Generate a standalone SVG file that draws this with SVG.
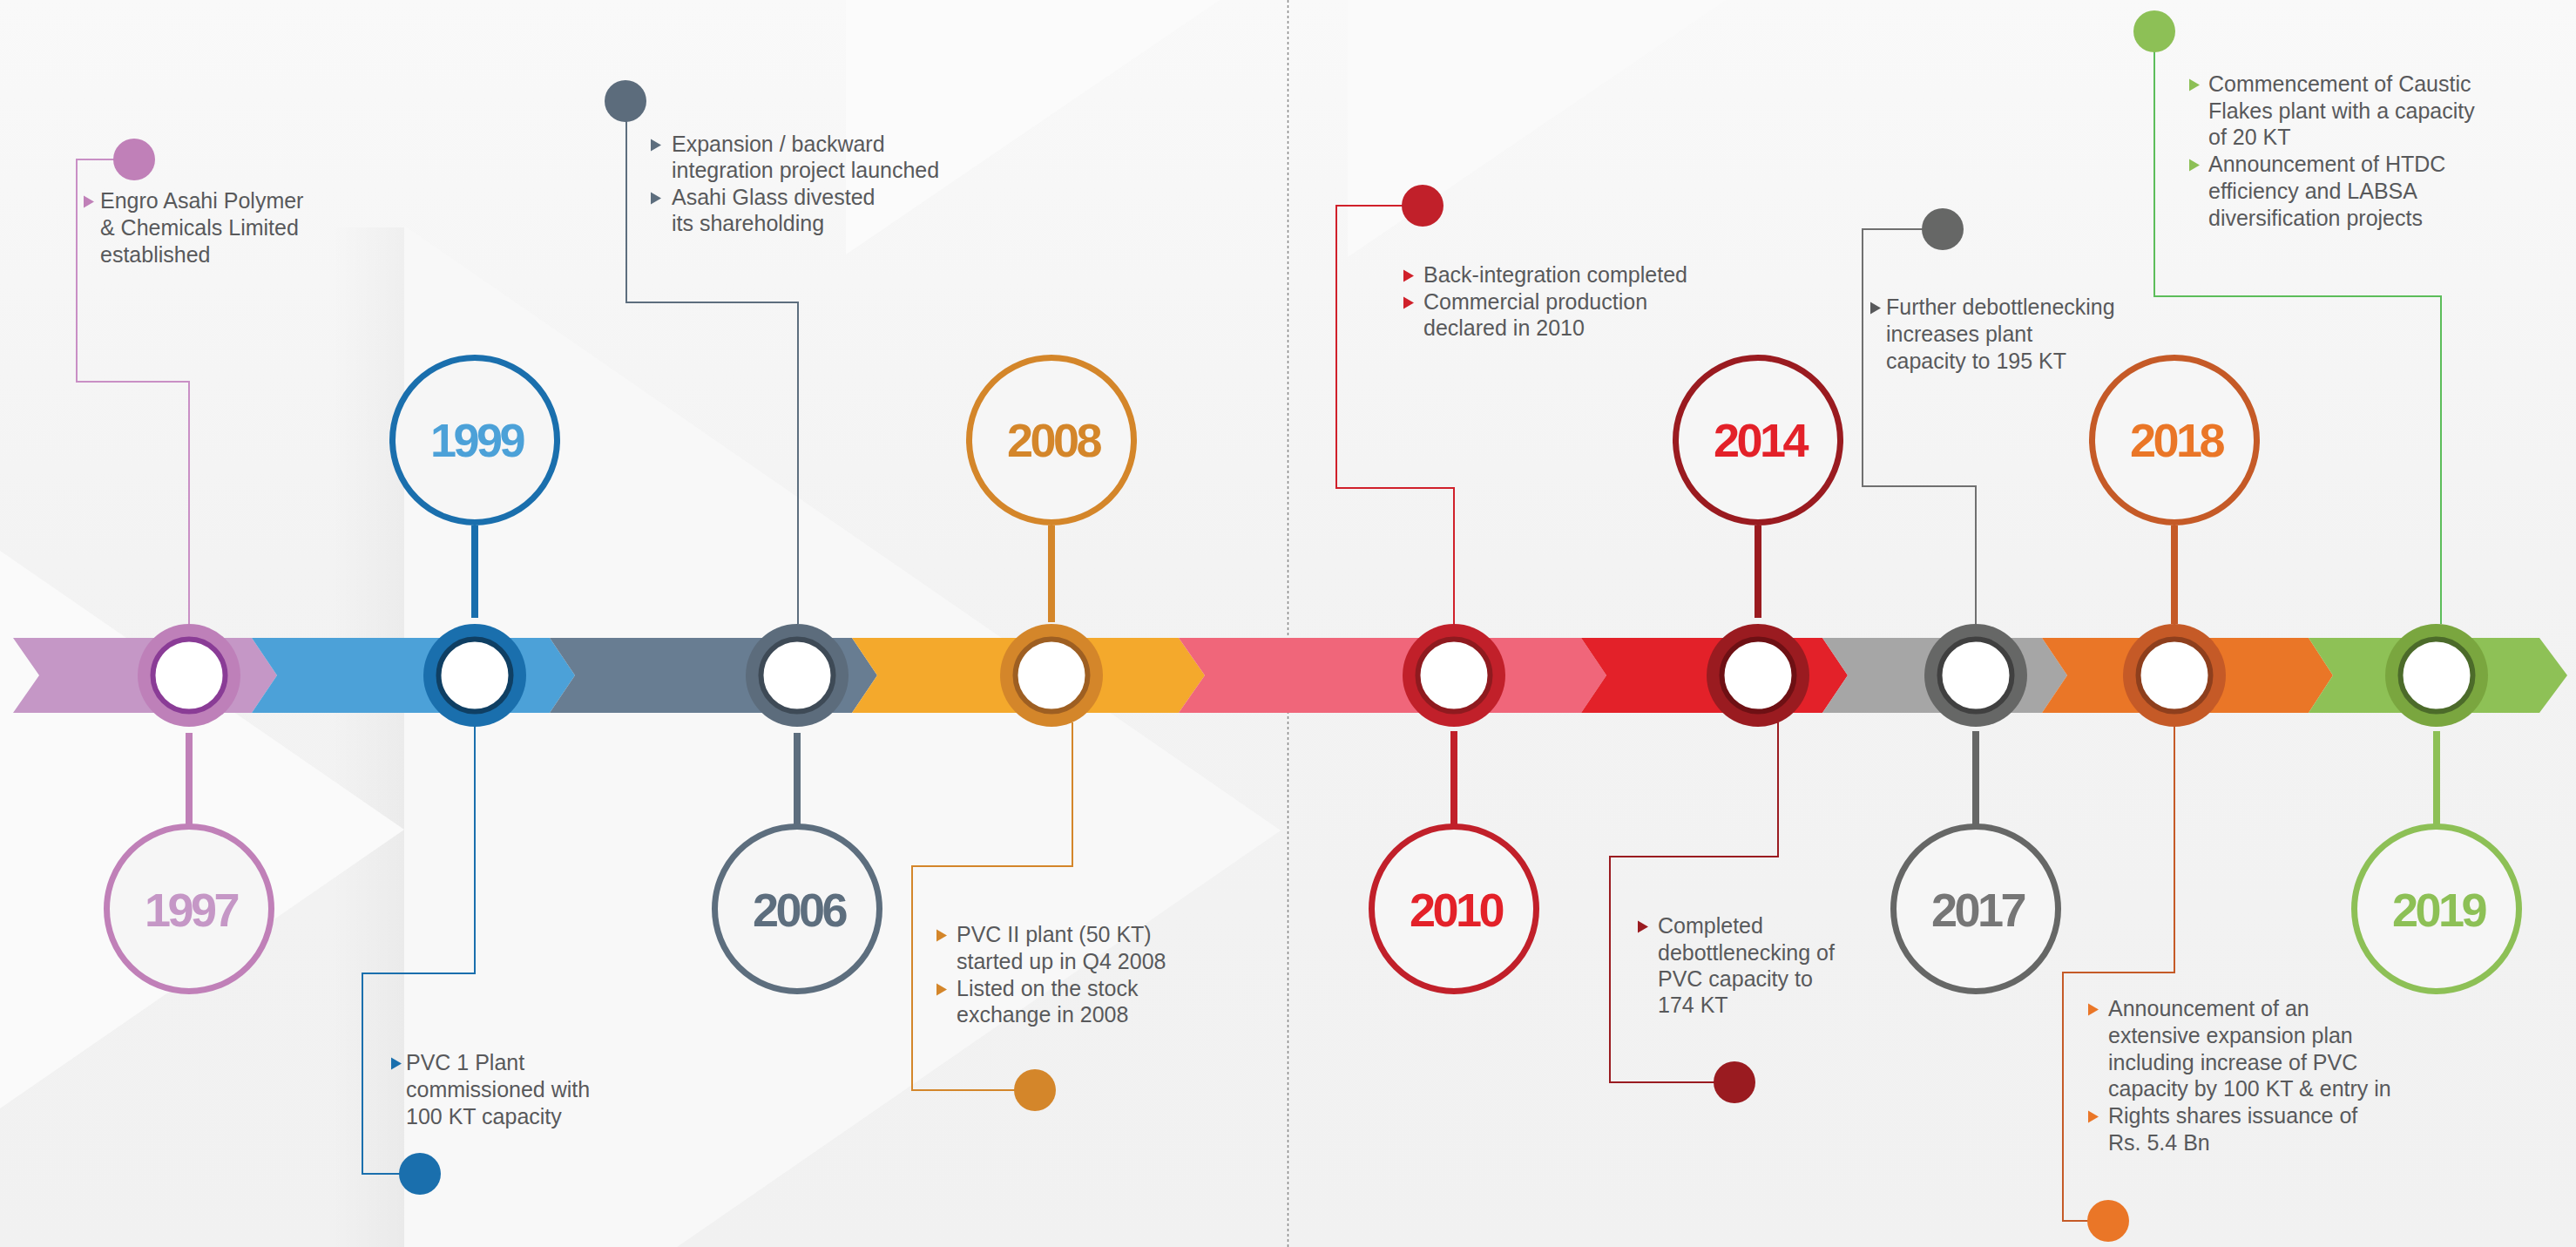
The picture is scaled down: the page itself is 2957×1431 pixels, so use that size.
<svg xmlns="http://www.w3.org/2000/svg" xmlns:xlink="http://www.w3.org/1999/xlink" width="2957" height="1431" viewBox="0 0 2957 1431">
<style>
.t{font-family:"Liberation Sans",Arial,sans-serif;font-size:25px;fill:#58595b}
.y{font-family:"Liberation Sans",Arial,sans-serif;font-weight:bold;font-size:54px;text-anchor:middle;letter-spacing:-3.5px}
.yc{fill:#f6f6f6;stroke-width:7}
.in{fill:#fff;stroke-width:6}
.c{fill:none;stroke-width:2}
.s{stroke-width:8;fill:none}
</style>
<defs>
<linearGradient id="bg" x1="0" y1="0" x2="0" y2="1">
<stop offset="0" stop-color="#f9f9f9"/>
<stop offset="0.45" stop-color="#f3f3f3"/>
<stop offset="1" stop-color="#f1f1f1"/>
</linearGradient>
<linearGradient id="sh" x1="0" y1="0" x2="1" y2="0">
<stop offset="0" stop-color="#000" stop-opacity="0"/>
<stop offset="1" stop-color="#000" stop-opacity="0.03"/>
</linearGradient>
<path id="tri" d="M0,-14.5 L12,-7.5 L0,-0.5 Z"/>
</defs>

<g id="background">
<rect width="2957" height="1431" fill="url(#bg)"/>
<rect x="380" y="261" width="84" height="1170" fill="url(#sh)"/>
<polygon points="464,259 1470,953 464,1647" fill="#f8f8f8"/>
<polygon points="0,632 464,952 0,1272" fill="#fafafa"/>
<polygon points="971,0 971,292 1400,0" fill="#fbfbfb"/>
<polygon points="1547,0 1547,295 1981,0" fill="#fafafa"/>
<line x1="1478.5" y1="0" x2="1478.5" y2="1431" stroke="#8a8a8a" stroke-width="1.5" stroke-dasharray="3 3"/>
</g>

<g id="bar">
<polygon points="15,732 289,732 318,775 289,818 15,818 45,775" fill="#c597c6"/>
<polygon points="289,732 631,732 660,775 631,818 289,818 318,775" fill="#4ca1d8"/>
<polygon points="631,732 978,732 1007,775 978,818 631,818 660,775" fill="#687d92"/>
<polygon points="978,732 1353,732 1383,775 1353,818 978,818 1007,775" fill="#f4a92c"/>
<polygon points="1353,732 1815,732 1844,775 1815,818 1353,818 1383,775" fill="#f0667a"/>
<polygon points="1815,732 2092,732 2121,775 2092,818 1815,818 1844,775" fill="#e32129"/>
<polygon points="2092,732 2344,732 2373,775 2344,818 2092,818 2121,775" fill="#a6a6a6"/>
<polygon points="2344,732 2650,732 2678,775 2650,818 2344,818 2373,775" fill="#ea7627"/>
<polygon points="2650,732 2915,732 2947,775 2915,818 2650,818 2678,775" fill="#8ec156"/>
</g>

<g id="connectors">
<line class="s" x1="217" y1="841" x2="217" y2="946" stroke="#c080b8"/>
<polyline class="c" points="217,716 217,438 88,438 88,183 140,183" stroke="#c98fc5"/>
<line class="s" x1="545" y1="603" x2="545" y2="709" stroke="#1a6fad"/>
<polyline class="c" points="545,834 545,1117 416,1117 416,1347 470,1347" stroke="#1a6fad"/>
<line class="s" x1="915" y1="841" x2="915" y2="946" stroke="#5d6e7e"/>
<polyline class="c" points="916,716 916,347 719,347 719,130" stroke="#5d6e7e"/>
<line class="s" x1="1207" y1="603" x2="1207" y2="714" stroke="#d4862a"/>
<polyline class="c" points="1231,829 1231,994 1047,994 1047,1251 1175,1251" stroke="#d4862a"/>
<line class="s" x1="1669" y1="839" x2="1669" y2="946" stroke="#c1202a"/>
<polyline class="c" points="1669,716 1669,560 1534,560 1534,236 1620,236" stroke="#d0202a"/>
<line class="s" x1="2018" y1="603" x2="2018" y2="709" stroke="#9a1b20"/>
<polyline class="c" points="2041,829 2041,983 1848,983 1848,1242 1978,1242" stroke="#9a1b20"/>
<line class="s" x1="2268" y1="839" x2="2268" y2="946" stroke="#666766"/>
<polyline class="c" points="2268,716 2268,558 2138,558 2138,263 2215,263" stroke="#707070"/>
<line class="s" x1="2496" y1="603" x2="2496" y2="716" stroke="#c55a27"/>
<polyline class="c" points="2496,834 2496,1116 2368,1116 2368,1401 2405,1401" stroke="#c55a27"/>
<line class="s" x1="2797" y1="839" x2="2797" y2="946" stroke="#8dc056"/>
<polyline class="c" points="2802,716 2802,340 2473,340 2473,50" stroke="#5cbd5a"/>
</g>

<g id="n1997">
<circle cx="217" cy="775" r="59" fill="#be80b9"/>
<circle class="in" cx="217" cy="775" r="41.5" stroke="#8a3c96"/>
<circle class="yc" cx="217" cy="1043" r="94.5" stroke="#c080b8"/>
<text class="y" x="219" y="1063" fill="#c597c6">1997</text>
<circle cx="154" cy="183" r="24" fill="#c080b8"/>
<use xlink:href="#tri" x="96" y="239" fill="#c080b8"/>
<text class="t" x="115" y="239">Engro Asahi Polymer</text>
<text class="t" x="115" y="270">&amp; Chemicals Limited</text>
<text class="t" x="115" y="301">established</text>
</g>

<g id="n1999">
<circle cx="545" cy="775" r="59" fill="#1a6fad"/>
<circle class="in" cx="545" cy="775" r="41.5" stroke="#0f3f63"/>
<circle class="yc" cx="545" cy="505" r="94.5" stroke="#1a6fad"/>
<text class="y" x="547" y="524" fill="#4ca1d8">1999</text>
<circle cx="482" cy="1347" r="24" fill="#1a6fad"/>
<use xlink:href="#tri" x="449" y="1228" fill="#1a6fad"/>
<text class="t" x="466" y="1228">PVC 1 Plant</text>
<text class="t" x="466" y="1259">commissioned with</text>
<text class="t" x="466" y="1290">100 KT capacity</text>
</g>

<g id="n2006">
<circle cx="915" cy="775" r="59" fill="#5c6c7c"/>
<circle class="in" cx="915" cy="775" r="41.5" stroke="#3e4a56"/>
<circle class="yc" cx="915" cy="1043" r="94.5" stroke="#5d6e7e"/>
<text class="y" x="917" y="1063" fill="#5d6e7e">2006</text>
<circle cx="718" cy="116" r="24" fill="#5c6c7c"/>
<use xlink:href="#tri" x="747" y="174" fill="#5d6e7e"/>
<text class="t" x="771" y="174">Expansion / backward</text>
<text class="t" x="771" y="204">integration project launched</text>
<use xlink:href="#tri" x="747" y="235" fill="#5d6e7e"/>
<text class="t" x="771" y="235">Asahi Glass divested</text>
<text class="t" x="771" y="265">its shareholding</text>
</g>

<g id="n2008">
<circle cx="1207" cy="775" r="59" fill="#d4862a"/>
<circle class="in" cx="1207" cy="775" r="41.5" stroke="#9e5f22"/>
<circle class="yc" cx="1207" cy="505" r="94.5" stroke="#d4862a"/>
<text class="y" x="1209" y="524" fill="#d4862a">2008</text>
<circle cx="1188" cy="1251" r="24" fill="#d4862a"/>
<use xlink:href="#tri" x="1075" y="1081" fill="#d4862a"/>
<text class="t" x="1098" y="1081">PVC II plant (50 KT)</text>
<text class="t" x="1098" y="1112">started up in Q4 2008</text>
<use xlink:href="#tri" x="1075" y="1143" fill="#d4862a"/>
<text class="t" x="1098" y="1143">Listed on the stock</text>
<text class="t" x="1098" y="1173">exchange in 2008</text>
</g>

<g id="n2010">
<circle cx="1669" cy="775" r="59" fill="#c1202a"/>
<circle class="in" cx="1669" cy="775" r="41.5" stroke="#8f1a1f"/>
<circle class="yc" cx="1669" cy="1043" r="94.5" stroke="#c1202a"/>
<text class="y" x="1671" y="1063" fill="#e32129">2010</text>
<circle cx="1633" cy="236" r="24" fill="#c1202a"/>
<use xlink:href="#tri" x="1611" y="324" fill="#d0202a"/>
<text class="t" x="1634" y="324">Back-integration completed</text>
<use xlink:href="#tri" x="1611" y="355" fill="#d0202a"/>
<text class="t" x="1634" y="355">Commercial production</text>
<text class="t" x="1634" y="385">declared in 2010</text>
</g>

<g id="n2014">
<circle cx="2018" cy="775" r="59" fill="#9a1b20"/>
<circle class="in" cx="2018" cy="775" r="41.5" stroke="#6e1014"/>
<circle class="yc" cx="2018" cy="505" r="94.5" stroke="#9a1b20"/>
<text class="y" x="2020" y="524" fill="#e32129">2014</text>
<circle cx="1991" cy="1242" r="24" fill="#9a1b20"/>
<use xlink:href="#tri" x="1880" y="1071" fill="#9a1b20"/>
<text class="t" x="1903" y="1071">Completed</text>
<text class="t" x="1903" y="1102">debottlenecking of</text>
<text class="t" x="1903" y="1132">PVC capacity to</text>
<text class="t" x="1903" y="1162">174 KT</text>
</g>

<g id="n2017">
<circle cx="2268" cy="775" r="59" fill="#666766"/>
<circle class="in" cx="2268" cy="775" r="41.5" stroke="#404040"/>
<circle class="yc" cx="2268" cy="1043" r="94.5" stroke="#666766"/>
<text class="y" x="2270" y="1063" fill="#767676">2017</text>
<circle cx="2230" cy="263" r="24" fill="#666766"/>
<use xlink:href="#tri" x="2147" y="361" fill="#58595b"/>
<text class="t" x="2165" y="361">Further debottlenecking</text>
<text class="t" x="2165" y="392">increases plant</text>
<text class="t" x="2165" y="423">capacity to 195 KT</text>
</g>

<g id="n2018">
<circle cx="2496" cy="775" r="59" fill="#c55a27"/>
<circle class="in" cx="2496" cy="775" r="41.5" stroke="#8e3f1d"/>
<circle class="yc" cx="2496" cy="505" r="94.5" stroke="#c55a27"/>
<text class="y" x="2498" y="524" fill="#ea7627">2018</text>
<circle cx="2420" cy="1401" r="24" fill="#ea7627"/>
<use xlink:href="#tri" x="2397" y="1166" fill="#ea7627"/>
<text class="t" x="2420" y="1166">Announcement of an</text>
<text class="t" x="2420" y="1197">extensive expansion plan</text>
<text class="t" x="2420" y="1228">including increase of PVC</text>
<text class="t" x="2420" y="1258">capacity by 100 KT &amp; entry in</text>
<use xlink:href="#tri" x="2397" y="1289" fill="#ea7627"/>
<text class="t" x="2420" y="1289">Rights shares issuance of</text>
<text class="t" x="2420" y="1320">Rs. 5.4 Bn</text>
</g>

<g id="n2019">
<circle cx="2797" cy="775" r="59" fill="#7aa63f"/>
<circle class="in" cx="2797" cy="775" r="41.5" stroke="#4c6b2a"/>
<circle class="yc" cx="2797" cy="1043" r="94.5" stroke="#8dc056"/>
<text class="y" x="2799" y="1063" fill="#8dc056">2019</text>
<circle cx="2473" cy="36" r="24" fill="#8dc056"/>
<use xlink:href="#tri" x="2513" y="105" fill="#8dc056"/>
<text class="t" x="2535" y="105">Commencement of Caustic</text>
<text class="t" x="2535" y="136">Flakes plant with a capacity</text>
<text class="t" x="2535" y="166">of 20 KT</text>
<use xlink:href="#tri" x="2513" y="197" fill="#8dc056"/>
<text class="t" x="2535" y="197">Announcement of HTDC</text>
<text class="t" x="2535" y="228">efficiency and LABSA</text>
<text class="t" x="2535" y="259">diversification projects</text>
</g>
</svg>
